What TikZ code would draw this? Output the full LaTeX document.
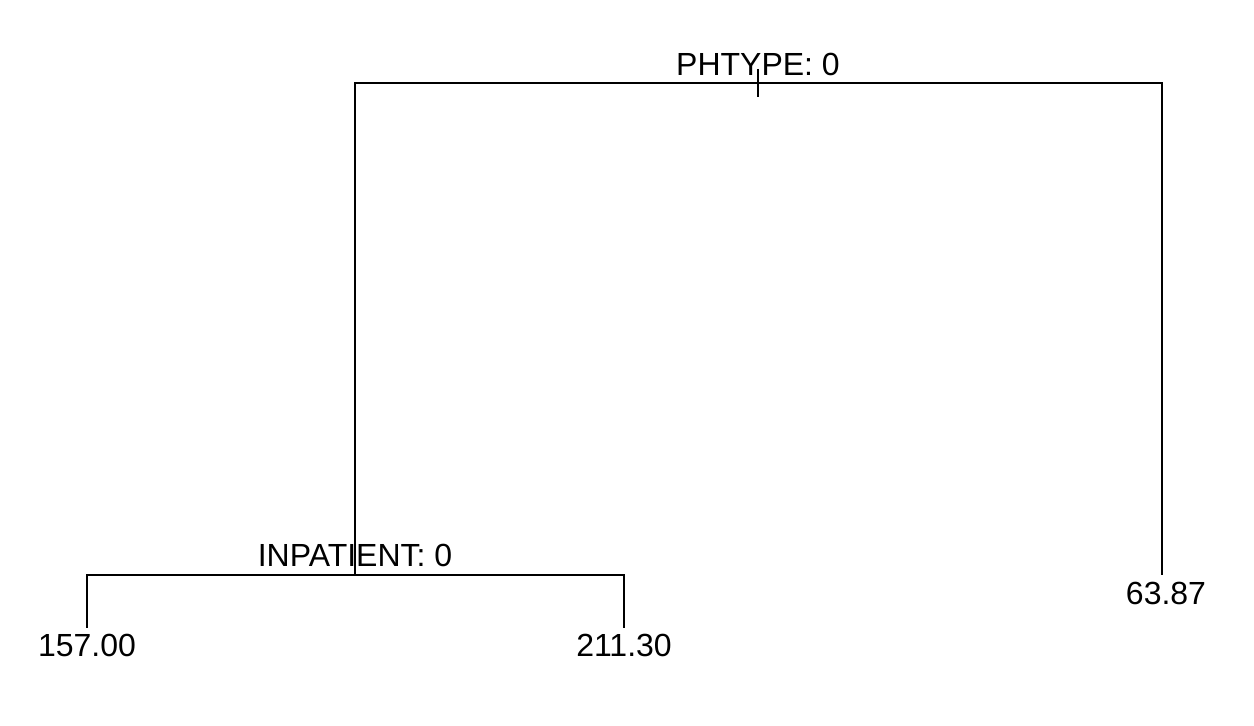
\documentclass[tikz,border=0pt]{standalone}
\usepackage{fontspec}
\setmainfont{Liberation Sans}
\usetikzlibrary{positioning}

\begin{document}
\begin{tikzpicture}[x=0.5pt,y=-0.5pt,line width=1pt,font=\fontsize{16}{19}\selectfont]
\tikzset{lbl/.style={anchor=base,inner sep=0pt}}
\useasboundingbox (0,0) rectangle (1254,726);
% split points and leaves
\coordinate (root) at (758,83);
\coordinate (rootL) at (355,83); \coordinate (rootR) at (1162,83);
\coordinate (inp) at (355,575);
\coordinate (inpL) at (87,575); \coordinate (inpR) at (624,575);
\coordinate (leafA) at (87,628); \coordinate (leafB) at (624,628);
\coordinate (leafC) at (1162,575);
% tree
\draw (inp) -- (rootL) -- (rootR) -- (leafC);
\draw ([yshift=7pt]root) -- ([yshift=-7pt]root);
\draw (leafA) -- (inpL) -- (inpR) -- (leafB);
% labels
\node[lbl] (phtype) at (758,76) {PHTYPE: 0};
\node[lbl] (inpatient) at (355,567) {INPATIENT: 0};
\node[lbl] (v157) at (87,657) {157.00};
\node[lbl] (v211) at (624,657) {211.30};
\node[lbl] (v63) at (1166,605) {63.87};
\end{tikzpicture}
\end{document}
